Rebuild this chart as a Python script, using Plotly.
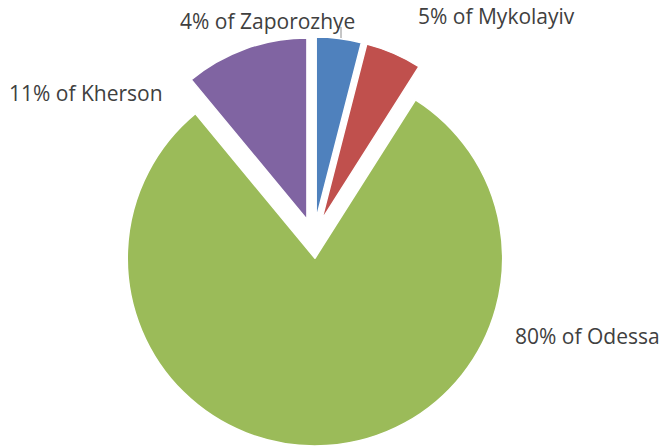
import plotly.graph_objects as go

# Data
categories = ["Zaporozhye", "Mykolayiv", "Odessa", "Kherson"]
shares = [4, 5, 80, 11]
colors = ["#4F81BD", "#C0504D", "#9BBB59", "#8064A2"]

W, H = 660, 446

def px(x):
    return x / W

def py(y):
    return 1 - y / H

# Pie geometry (pixels)
cx, cy = 313.7, 238.3
pull_px = 20.0
r_big = 187.7     # the large (Odessa) slice
r_small = 181.5   # the other slices

def domain(r):
    half = r + pull_px
    return dict(x=[px(cx - 250), px(cx + 250)],
                y=[max(0, py(cy + half)), py(cy - half)])

big_idx = categories.index("Odessa")
transparent = "rgba(0,0,0,0)"

fig = go.Figure()
for r, show_big in [(r_big, True), (r_small, False)]:
    cols = [c if ((i == big_idx) == show_big) else transparent for i, c in enumerate(colors)]
    lw = [1.5 if ((i == big_idx) == show_big) else 0 for i in range(len(colors))]
    fig.add_trace(go.Pie(
        labels=categories,
        values=shares,
        sort=False,
        direction="clockwise",
        rotation=0,
        pull=[pull_px / r] * len(shares),
        marker=dict(colors=cols, line=dict(color="white", width=lw)),
        textinfo="none",
        hoverinfo="skip",
        showlegend=False,
        domain=domain(r),
    ))

# Data labels
label_pos = {
    "Zaporozhye": (178, 21.2),
    "Mykolayiv": (415.5, 15.8),
    "Kherson": (6.5, 92.8),
    "Odessa": (513, 336.2),
}
for cat, val in zip(categories, shares):
    x, y = label_pos[cat]
    fig.add_annotation(
        x=px(x), y=py(y), xref="paper", yref="paper",
        xanchor="left", yanchor="middle",
        text=f"{val}% of {cat}", showarrow=False,
        font=dict(family="Open Sans", size=21, color="#404040"),
    )

# leader line for the Zaporozhye label
fig.add_shape(type="line", xref="paper", yref="paper",
              x0=px(341), y0=py(27), x1=px(341), y1=py(38),
              line=dict(color="#8C8C8C", width=1))

fig.update_layout(
    width=W, height=H,
    margin=dict(l=0, r=0, t=0, b=0),
    paper_bgcolor="white", plot_bgcolor="white",
    showlegend=False,
)

fig.write_html("out.html",
               config={"displayModeBar": False},
               post_script="document.body.style.margin='0';document.body.style.overflow='hidden';")
